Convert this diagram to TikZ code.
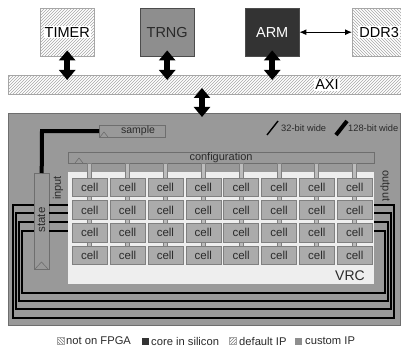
\documentclass[tikz,border=0pt]{standalone}
\usepackage{fontspec}
\setmainfont{Liberation Sans}
\usetikzlibrary{arrows.meta,patterns,calc}
\definecolor{panelgray}{HTML}{999999}
\definecolor{paneledge}{HTML}{6E6E6E}
\definecolor{cellgray}{HTML}{ABABAB}
\definecolor{celledge}{HTML}{808080}
\definecolor{armgray}{HTML}{333333}
\definecolor{trnggray}{HTML}{8E8E8E}
\definecolor{vrcbg}{HTML}{EEEEEE}
\definecolor{txtgray}{HTML}{2A2A2A}
\tikzset{
  hatchbox/.style={draw=gray!70, pattern=north east lines, pattern color=gray!70, minimum width=54pt, minimum height=48pt, anchor=north west, inner sep=0pt},
  ipbox/.style={draw=gray!60!black, minimum width=54pt, minimum height=48pt, anchor=north west, inner sep=0pt},
  bigtxt/.style={font=\fontsize{14.5}{16}\selectfont, inner sep=1pt},
  midtxt/.style={font=\fontsize{11}{13}\selectfont, text=txtgray, inner sep=0pt},
  smalltxt/.style={font=\fontsize{9.3}{11}\selectfont, text=txtgray, inner sep=0pt},
  fatarrow/.style={line width=6pt, {Triangle[width=16pt,length=10pt]}-{Triangle[width=16pt,length=10pt]}},
  thinarrow/.style={line width=1pt, {Latex[length=7pt,width=6pt]}-{Latex[length=7pt,width=6pt]}},
  barbox/.style={draw=paneledge, fill=panelgray, anchor=north west, inner sep=0pt},
  cellbox/.style={draw=celledge, fill=cellgray, minimum width=35pt, minimum height=18.5pt, anchor=north west, inner sep=0pt, font=\fontsize{11.5}{13}\selectfont, text=txtgray},
  conn/.style={draw=celledge, fill=cellgray!80, line width=0.5pt},
  loopline/.style={line width=1.7pt, black},
  trig/.style={draw=paneledge, line width=0.6pt},
  swatch/.style={minimum width=7pt, minimum height=7pt, inner sep=0pt},
  legtxt/.style={font=\fontsize{11.2}{13}\selectfont, text=txtgray, inner sep=0pt, anchor=west}
}
\begin{document}
\begin{tikzpicture}[x=1pt,y=-1pt]
\useasboundingbox (0,0) rectangle (401,347);
\clip (0,0) rectangle (401,347);

% top blocks
\node[hatchbox] (timer) at (40,8) {};
\node[bigtxt, fill=white] (timerlbl) at (timer.center) {TIMER};
\node[ipbox, fill=trnggray, text=txtgray, font=\fontsize{14.5}{16}\selectfont] (trng) at (140,8) {TRNG};
\node[ipbox, fill=armgray, text=white, font=\fontsize{14.5}{16}\selectfont] (arm) at (245,8) {ARM};
\node[hatchbox, pattern=north west lines] (ddr) at (352,8) {};
\node[bigtxt, fill=white] (ddrlbl) at (ddr.center) {DDR3};

% AXI bus
\node[draw=gray!70, pattern=north east lines, pattern color=gray!70, minimum width=400pt, minimum height=19pt, anchor=north west, inner sep=0pt] (axi) at (8,75) {};
\node[bigtxt, fill=white, inner sep=1.5pt] (axilbl) at (327,85) {AXI};

% main panel
\node[draw=paneledge, fill=panelgray, minimum width=392pt, minimum height=212pt, anchor=north west, inner sep=0pt] (panel) at (8,113) {};

% arrows
\draw[thinarrow] (arm.east) -- (ddr.west);
\draw[fatarrow] ([yshift=6pt]timer.south) -- ([yshift=-5pt]timer.south |- axi.north);
\draw[fatarrow] ([yshift=6pt]trng.south) -- ([yshift=-5pt]trng.south |- axi.north);
\draw[fatarrow] ([yshift=6pt]arm.south) -- ([yshift=-5pt]arm.south |- axi.north);
\coordinate (axitap) at (202,94);
\draw[fatarrow] ([yshift=6pt]axitap) -- ([yshift=-4pt]axitap |- panel.north);

% width legend
\coordinate (w32a) at (267,135); \coordinate (w32b) at (278,121);
\draw[line width=1.4pt, black] (w32a) -- (w32b);
\node[smalltxt, anchor=west] (w32) at (281,128) {32-bit wide};
\coordinate (w128a) at (336,135); \coordinate (w128b) at (347,121);
\draw[line width=4pt, black] (w128a) -- (w128b);
\node[smalltxt, anchor=west] (w128) at (348,128) {128-bit wide};

% VRC region
\node[draw=none, fill=vrcbg, minimum width=306pt, minimum height=112pt, anchor=north west, inner sep=0pt] (vrc) at (68,172) {};
\node[font=\fontsize{14}{16}\selectfont, text=txtgray, inner sep=0pt] (vrclbl) at (350,276) {VRC};

% configuration bar
\node[barbox, minimum width=306pt, minimum height=11pt] (config) at (68,152) {};
\node[midtxt] (configlbl) at (221,157.5) {configuration};
\draw[trig] (75,163) -- (79,158) -- (83,163);

% vertical config lines
\foreach \i in {0,...,7} {
  \pgfmathsetmacro{\cx}{72+37.86*\i+17.5}
  \draw[conn] (\cx-2,163) rectangle (\cx+2,262);
}

% cells
\foreach \i in {0,...,7} {
  \foreach \j in {0,...,3} {
    \pgfmathsetmacro{\cx}{72+37.86*\i}
    \pgfmathsetmacro{\cy}{178+22.5*\j}
    \node[cellbox] (c-\i-\j) at (\cx,\cy) {cell};
  }
}

% sample box
\node[barbox, minimum width=66pt, minimum height=12pt] (sample) at (99,125) {};
\node[font=\fontsize{10.5}{12}\selectfont, text=txtgray, inner sep=0pt] (samplelbl) at (138,130.5) {sample};
\draw[trig] (100,137) -- (104,132) -- (108,137);

% state box
\node[barbox, minimum width=15pt, minimum height=96pt] (state) at (34,173) {};
\node[font=\fontsize{11.5}{13}\selectfont, text=txtgray, inner sep=0pt, rotate=90] (statelbl) at (41.5,220) {state};
\draw[trig] (35,269) -- (41.5,262) -- (48,269);

% input / output labels
\node[midtxt, rotate=90] (inlbl) at (58,188) {input};
\node[midtxt, rotate=-90] (outlbl) at (385,186) {output};

% sample -> state
\coordinate (sbend) at (42,131);
\draw[line width=4pt, black] (sample.west) -- (sample.west -| sbend) -- (state.north);

% loops output -> state
\foreach \k/\yy/\xr/\yb/\xl in {0/205/394/318/13, 1/213/391/309/16, 2/222/388/301/19, 3/231/385/293/22} {
  \coordinate (or\k) at (374,\yy);
  \coordinate (il\k) at (\xl,\yy);
  \draw[loopline] (or\k) -- (\xr,\yy) -- (\xr,\yb) -- (\xl,\yb) -- (il\k) -- (il\k -| state.west);
  \draw[loopline] (state.east |- or\k) -- (vrc.west |- or\k);
}

% legend
\node[swatch, draw=gray!70, pattern=north west lines, pattern color=gray] (sw1) at (61,341) {};
\node[legtxt] (l1) at (66,341) {not on FPGA};
\node[swatch, fill=armgray] (sw2) at (145,341) {};
\node[legtxt] (l2) at (151,341) {core in silicon};
\node[swatch, draw=gray!70, pattern=north east lines, pattern color=gray] (sw3) at (233,341) {};
\node[legtxt] (l3) at (239,341) {default IP};
\node[swatch, fill=trnggray] (sw4) at (298,341) {};
\node[legtxt] (l4) at (305,341) {custom IP};
\end{tikzpicture}
\end{document}
